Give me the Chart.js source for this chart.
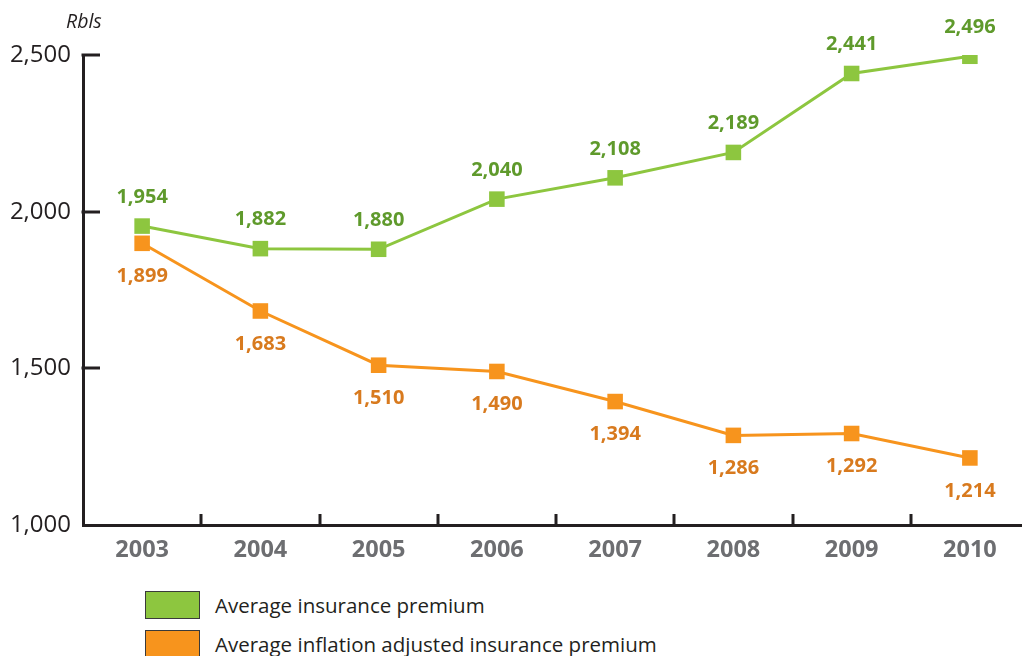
<!DOCTYPE html>
<html>
<head>
<meta charset="utf-8">
<script src="https://cdn.jsdelivr.net/npm/chart.js@4/dist/chart.umd.min.js"></script>
<style>
  html, body { margin: 0; padding: 0; background: #fff; overflow: hidden; }
  #wrap { position: relative; width: 1022px; height: 656px; overflow: hidden; }
  #chart { position: absolute; left: 0; top: 0; }
  .unit { position: absolute; left: 66px; top: 7px; font: italic 19.5px "Open Sans", sans-serif; color: #231f20; }
  .legend { position: absolute; left: 145px; top: 585px; font: 20.5px "Open Sans", sans-serif; color: #231f20; }
  .legend .item { display: flex; align-items: center; height: 39px; }
  .legend .box { width: 53px; height: 26px; border: 1.5px solid #3a3a3a; margin-right: 15px; box-sizing: content-box; }
</style>
</head>
<body>
<div id="wrap">
  <canvas id="chart" width="1040" height="580" style="width:1040px;height:580px"></canvas>
  <div class="unit">Rbls</div>
  <div class="legend" id="legend"></div>
</div>
<script>
const years = ['2003', '2004', '2005', '2006', '2007', '2008', '2009', '2010'];
const averagePremium = [1954, 1882, 1880, 2040, 2108, 2189, 2441, 2496];
const inflationAdjustedPremium = [1899, 1683, 1510, 1490, 1394, 1286, 1292, 1214];
const yTicks = [1000, 1500, 2000, 2500];
const seriesNames = ['Average insurance premium', 'Average inflation adjusted insurance premium'];

const GREEN = '#8dc63f', GREEN_TEXT = '#5f9a2c';
const ORANGE = '#f7941d', ORANGE_TEXT = '#d87a1e';
const AXIS = '#231f20';

const fmt = v => v.toLocaleString('en-US');

// inward tick marks on both axes
const axisTicks = {
  id: 'axisTicks',
  afterDraw(chart) {
    const { ctx, chartArea: a } = chart;
    const xs = chart.scales.x, ys = chart.scales.y;
    ctx.save();
    ctx.strokeStyle = AXIS;
    ctx.lineWidth = 3;
    ctx.lineCap = 'butt';
    // y ticks pointing right
    yTicks.forEach(v => {
      if (v === ys.min) return;
      const y = Math.round(ys.getPixelForValue(v));
      ctx.beginPath();
      ctx.moveTo(a.left - 1.5, y);
      ctx.lineTo(a.left + 17, y);
      ctx.stroke();
    });
    // x ticks between categories pointing up
    for (let i = 1; i < years.length; i++) {
      const x = Math.round((xs.getPixelForTick(i - 1) + xs.getPixelForTick(i)) / 2);
      ctx.beginPath();
      ctx.moveTo(x, a.bottom);
      ctx.lineTo(x, a.bottom - 11);
      ctx.stroke();
    }
    ctx.restore();
  }
};

// value labels: above for the first series, below for the second
const valueLabels = {
  id: 'valueLabels',
  afterDatasetsDraw(chart) {
    const { ctx } = chart;
    ctx.save();
    ctx.font = 'bold 20px "Open Sans", sans-serif';
    ctx.textAlign = 'center';
    ctx.textBaseline = 'middle';
    chart.data.datasets.forEach((ds, di) => {
      const meta = chart.getDatasetMeta(di);
      meta.data.forEach((pt, i) => {
        ctx.fillStyle = di === 0 ? GREEN_TEXT : ORANGE_TEXT;
        const dy = di === 0 ? -29 : 33;
        ctx.fillText(fmt(ds.data[i]), pt.x, pt.y + dy);
      });
    });
    ctx.restore();
  }
};

new Chart(document.getElementById('chart'), {
  type: 'line',
  data: {
    labels: years,
    datasets: [
      {
        label: seriesNames[0],
        data: averagePremium,
        borderColor: GREEN,
        backgroundColor: GREEN,
        borderWidth: 3,
        pointStyle: 'rect',
        pointRadius: 11,
        pointBorderWidth: 0,
        tension: 0
      },
      {
        label: seriesNames[1],
        data: inflationAdjustedPremium,
        borderColor: ORANGE,
        backgroundColor: ORANGE,
        borderWidth: 3,
        pointStyle: 'rect',
        pointRadius: 11,
        pointBorderWidth: 0,
        tension: 0
      }
    ]
  },
  options: {
    responsive: false,
    animation: false,
    layout: { padding: { top: 55, right: 4, left: 0, bottom: 0 } },
    plugins: { legend: { display: false }, tooltip: { enabled: false } },
    scales: {
      x: {
        offset: true,
        grid: { display: false, drawTicks: false, offset: true },
        border: { display: true, color: AXIS, width: 3 },
        ticks: {
          padding: 11,
          color: '#6d6e71',
          font: { family: '"Open Sans", sans-serif', size: 23.5, weight: 'bold' }
        },
        afterFit(s) { s.height = 580 - 525; }
      },
      y: {
        min: 1000,
        max: 2500,
        afterBuildTicks(s) { s.ticks = yTicks.map(v => ({ value: v })); },
        grid: { display: false, drawTicks: false },
        border: { display: true, color: AXIS, width: 3 },
        ticks: {
          padding: 12,
          color: AXIS,
          font: { family: '"Open Sans", sans-serif', size: 24 },
          callback: v => fmt(v)
        },
        afterFit(s) { s.width = 83; }
      }
    }
  },
  plugins: [axisTicks, valueLabels]
});

// legend
const legend = document.getElementById('legend');
[GREEN, ORANGE].forEach((c, i) => {
  const item = document.createElement('div');
  item.className = 'item';
  const box = document.createElement('span');
  box.className = 'box';
  box.style.background = c;
  const txt = document.createElement('span');
  txt.textContent = seriesNames[i];
  item.appendChild(box);
  item.appendChild(txt);
  legend.appendChild(item);
});
</script>
</body>
</html>
